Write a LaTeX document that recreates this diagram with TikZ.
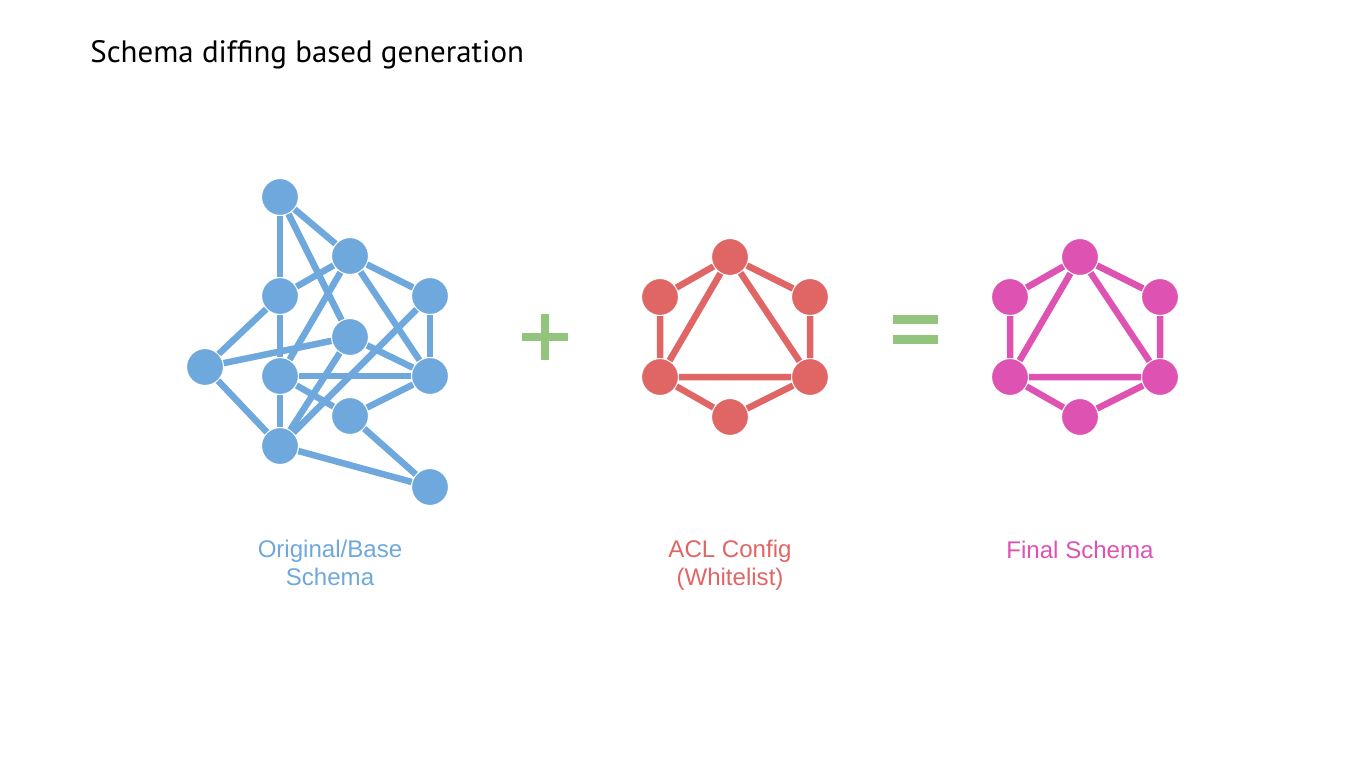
\documentclass[tikz,border=0pt]{standalone}
\usepackage{fontspec}
\setmainfont{Liberation Sans}
\newfontfamily\titlefont{PT Sans}
\definecolor{blue}{RGB}{111,168,220}
\definecolor{redd}{RGB}{224,102,102}
\definecolor{magent}{RGB}{222,82,178}
\definecolor{grn}{RGB}{147,196,125}
\tikzset{
  vert/.style={circle,minimum size=0.76cm,inner sep=0pt,outer sep=0pt,draw=white,line width=1.2pt,fill=#1},
  link/.style={line width=3.7pt,color=#1},
  caption/.style={align=center,font=\fontsize{13.7}{15.4}\selectfont,text=#1,anchor=base}
}

\begin{document}
\begin{tikzpicture}[x=0.02cm,y=-0.02cm]
	\useasboundingbox (0,0) rectangle (1366,768);
	\node[anchor=base west,inner sep=0pt,font=\titlefont\fontsize{17.6}{20}\selectfont] (title) at (90,62) {Schema diffing based generation};

	% base schema
	\node[vert=blue] (bA) at (280,197) {};
	\node[vert=blue] (bB) at (350,256) {};
	\node[vert=blue] (bC) at (280,296) {};
	\node[vert=blue] (bD) at (430,296) {};
	\node[vert=blue] (bE) at (350,337) {};
	\node[vert=blue] (bF) at (205,367) {};
	\node[vert=blue] (bG) at (280,376) {};
	\node[vert=blue] (bH) at (430,376) {};
	\node[vert=blue] (bI) at (350,416) {};
	\node[vert=blue] (bJ) at (280,446) {};
	\node[vert=blue] (bK) at (430,487) {};
	\draw[link=blue] (bA) -- (bC);
	\draw[link=blue] (bA) -- (bB);
	\draw[link=blue] (bA) -- (bE);
	\draw[link=blue] (bB) -- (bC);
	\draw[link=blue] (bB) -- (bD);
	\draw[link=blue] (bB) -- (bH);
	\draw[link=blue] (bB) -- (bG);
	\draw[link=blue] (bC) -- (bF);
	\draw[link=blue] (bC) -- (bG);
	\draw[link=blue] (bF) -- (bE);
	\draw[link=blue] (bF) -- (bJ);
	\draw[link=blue] (bG) -- (bH);
	\draw[link=blue] (bG) -- (bJ);
	\draw[link=blue] (bG) -- (bI);
	\draw[link=blue] (bE) -- (bH);
	\draw[link=blue] (bI) -- (bH);
	\draw[link=blue] (bI) -- (bK);
	\draw[link=blue] (bJ) -- (bK);
	\draw[link=blue] (bJ) -- (bE);
	\draw[link=blue] (bJ) -- (bD);
	\draw[link=blue] (bD) -- (bH);
	\node[caption=blue] (baseLbl) at (330,585) {Original/Base\\Schema};

	% plus
	\fill[grn] (522,333) rectangle (568,341);
	\fill[grn] (541,314) rectangle (549,360);

	% acl config
	\node[vert=redd] (rT) at (730,257) {};
	\node[vert=redd] (rUR) at (810,297) {};
	\node[vert=redd] (rUL) at (660,297) {};
	\node[vert=redd] (rLL) at (660,377) {};
	\node[vert=redd] (rLR) at (810,377) {};
	\node[vert=redd] (rB) at (730,417) {};
	\draw[link=redd] (rT) -- (rUR) -- (rLR) -- (rB) -- (rLL) -- (rUL) -- (rT);
	\draw[link=redd] (rT) -- (rLL) -- (rLR) -- (rT);
	\node[caption=redd] (aclLbl) at (730,585) {ACL Config\\(Whitelist)};

	% equals
	\fill[grn] (893,315) rectangle (938,324);
	\fill[grn] (893,335) rectangle (938,344);

	% final schema
	\node[vert=magent] (mT) at (1080,257) {};
	\node[vert=magent] (mUR) at (1160,297) {};
	\node[vert=magent] (mUL) at (1010,297) {};
	\node[vert=magent] (mLL) at (1010,377) {};
	\node[vert=magent] (mLR) at (1160,377) {};
	\node[vert=magent] (mB) at (1080,417) {};
	\draw[link=magent] (mT) -- (mUR) -- (mLR) -- (mB) -- (mLL) -- (mUL) -- (mT);
	\draw[link=magent] (mT) -- (mLL) -- (mLR) -- (mT);
	\node[caption=magent] (finalLbl) at (1080,558) {Final Schema};
\end{tikzpicture}
\end{document}
